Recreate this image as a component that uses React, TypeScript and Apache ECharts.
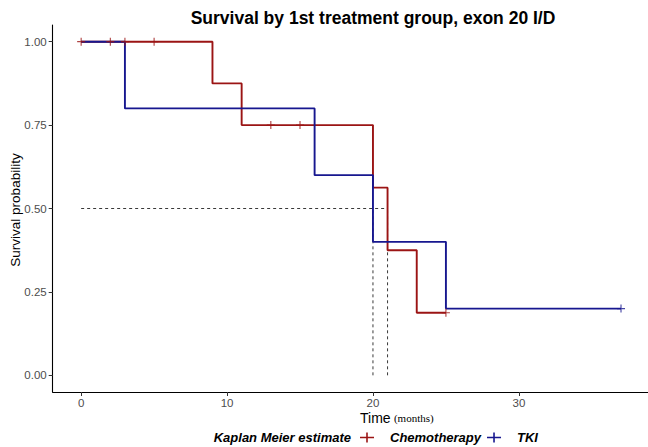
import React, { useEffect, useRef } from "react";
import * as echarts from "echarts";

// Kaplan-Meier step data (time in months, survival probability)
const chemoTimes = [0, 9, 11, 20, 21, 23, 25];
const chemoSurv = [1, 0.875, 0.75, 0.5625, 0.375, 0.1875, 0.1875];
const tkiTimes = [0, 3, 16, 20, 25, 37];
const tkiSurv = [1, 0.8, 0.6, 0.4, 0.2, 0.2];
// censoring marks
const chemoCensorTimes = [0, 2, 3, 5, 13, 15, 25];
const chemoCensorSurv = [1, 1, 1, 1, 0.75, 0.75, 0.1875];
const tkiCensorTimes = [37];
const tkiCensorSurv = [0.2];
// medians
const medianLevel = 0.5;
const medianChemo = 21;
const medianTKI = 20;

const xTicks = [0, 10, 20, 30];
const yTicks = [0, 0.25, 0.5, 0.75, 1];

const RED = "#9B1414";
const BLUE = "#17178F";
const FONT = "Liberation Sans, Arial, sans-serif";

const zip = (a: number[], b: number[]) => a.map((v, i) => [v, b[i]]);

// plus-shaped key with a zero-area sub-path on the right to reserve spacing before the label
const plusIcon = "path://M0,4.2 L14,4.2 L14,5.8 L0,5.8 Z M6.2,0 L7.8,0 L7.8,10 L6.2,10 Z M25,5 L25,5 Z";
const censorIcon = "path://M4.3,0 L5.7,0 L5.7,10 L4.3,10 Z M0,4.3 L10,4.3 L10,5.7 L0,5.7 Z";

export default function App() {
  const ref = useRef<HTMLDivElement>(null);
  useEffect(() => {
    if (!ref.current) return;
    const chart = echarts.init(ref.current, null, { renderer: "svg" });
    const dash = { color: "#222", width: 0.9, type: [3, 3] as any };
    const medMax = Math.max(medianChemo, medianTKI);
    chart.setOption({
      animation: false,
      backgroundColor: "#fff",
      grid: { left: 52.7, top: 25, width: 597, height: 367, containLabel: false },
      xAxis: {
        type: "value",
        min: -1.95,
        max: 38.85,
        splitLine: { show: false },
        axisLine: { show: true, onZero: false, lineStyle: { color: "#000", width: 1.1 } },
        axisTick: { show: true, length: 4, customValues: xTicks, lineStyle: { color: "#333" } },
        axisLabel: { customValues: xTicks, margin: 5, color: "#4D4D4D", fontSize: 11.5, fontFamily: FONT },
      },
      yAxis: {
        type: "value",
        min: -0.05,
        max: 1.05,
        splitLine: { show: false },
        axisLine: { show: true, onZero: false, lineStyle: { color: "#000", width: 1.1 } },
        axisTick: { show: true, length: 4, customValues: yTicks, lineStyle: { color: "#333" } },
        axisLabel: {
          customValues: yTicks,
          margin: 6,
          color: "#4D4D4D",
          fontSize: 11.5,
          fontFamily: FONT,
          formatter: (v: number) => v.toFixed(2),
        },
      },
      legend: {
        left: 355,
        top: 426,
        itemWidth: 25,
        itemHeight: 10,
        itemGap: 6,
        textStyle: {
          fontFamily: FONT,
          fontSize: 13,
          fontWeight: "bold",
          fontStyle: "italic",
          color: "#000",
        },
        data: [
          { name: "Chemotherapy", icon: plusIcon },
          { name: "TKI", icon: plusIcon },
        ],
      },
      graphic: [
        {
          type: "text",
          x: 373,
          y: 18,
          style: {
            text: "Survival by 1st treatment group, exon 20 I/D",
            fontFamily: FONT,
            fontSize: 17.5,
            fontWeight: "bold",
            fill: "#000",
            align: "center",
            verticalAlign: "middle",
          },
        },
        {
          type: "text",
          x: 351,
          y: 437,
          style: {
            text: "Kaplan Meier estimate",
            fontFamily: FONT,
            fontSize: 13,
            fontWeight: "bold",
            fontStyle: "italic",
            fill: "#000",
            align: "right",
            verticalAlign: "middle",
          },
        },
        {
          type: "text",
          x: 360,
          y: 418,
          style: {
            text: "{a|Time} {b|(months)}",
            verticalAlign: "middle",
            rich: {
              a: { fontFamily: FONT, fontSize: 14, fill: "#000", color: "#000" },
              b: { fontFamily: "Liberation Serif, Times New Roman, serif", fontSize: 11, fill: "#000", color: "#000" },
            },
          },
        },
        {
          type: "text",
          x: 15,
          y: 210,
          rotation: Math.PI / 2,
          style: {
            text: "Survival probability",
            fontFamily: FONT,
            fontSize: 13.5,
            fill: "#000",
            align: "center",
            verticalAlign: "middle",
          },
        },
      ],
      series: [
        {
          type: "line",
          name: "medH",
          data: [[0, medianLevel], [medMax, medianLevel]],
          showSymbol: false,
          lineStyle: dash,
          silent: true,
        },
        {
          type: "line",
          name: "medV1",
          data: [[medianTKI, 0], [medianTKI, medianLevel]],
          showSymbol: false,
          lineStyle: dash,
          silent: true,
        },
        {
          type: "line",
          name: "medV2",
          data: [[medianChemo, 0], [medianChemo, medianLevel]],
          showSymbol: false,
          lineStyle: dash,
          silent: true,
        },
        {
          type: "line",
          name: "Chemotherapy",
          step: "end",
          data: zip(chemoTimes, chemoSurv),
          showSymbol: false,
          color: RED,
          lineStyle: { color: RED, width: 1.9 },
          itemStyle: { color: RED },
        },
        {
          type: "line",
          name: "TKI",
          step: "end",
          data: zip(tkiTimes, tkiSurv),
          showSymbol: false,
          color: BLUE,
          lineStyle: { color: BLUE, width: 1.9 },
          itemStyle: { color: BLUE },
        },
        {
          type: "scatter",
          name: "chemoCensor",
          data: zip(chemoCensorTimes, chemoCensorSurv),
          symbol: censorIcon,
          symbolSize: 8,
          itemStyle: { color: RED },
          z: 3,
        },
        {
          type: "scatter",
          name: "tkiCensor",
          data: zip(tkiCensorTimes, tkiCensorSurv),
          symbol: censorIcon,
          symbolSize: 8,
          itemStyle: { color: BLUE },
          z: 3,
        },
      ],
    });
    return () => chart.dispose();
  }, []);
  return <div ref={ref} style={{ width: 648, height: 447, position: "absolute", left: 0, top: 0 }} />;
}
